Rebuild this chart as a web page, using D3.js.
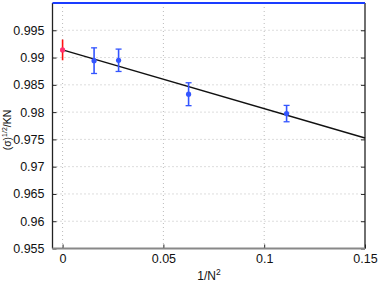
<!DOCTYPE html>
<html>
<head>
<meta charset="utf-8">
<script src="https://cdn.jsdelivr.net/npm/d3@7"></script>
<style>
body { margin: 0; background: #fff; }
text { font-family: "Liberation Sans", Arial, sans-serif; }
</style>
</head>
<body>
<svg id="chart" width="382" height="283"></svg>
<script>
// x = 1/N^2, y = <sigma>^(1/2)/KN
var xVals = [0.015625, 0.027778, 0.0625, 0.111111];
var yVals = [0.98943, 0.98950, 0.98328, 0.97973];
var yErr = [0.00235, 0.00205, 0.00210, 0.00150];
var extrapX = [0];
var extrapY = [0.99140];
var extrapErr = [0.00190];
var fitX = [0, 0.15];
var fitY = [0.99142, 0.97526];
var xTicks = [0, 0.05, 0.1, 0.15];
var yTicks = [0.955, 0.96, 0.965, 0.97, 0.975, 0.98, 0.985, 0.99, 0.995];

var svg = d3.select("#chart");
var pLeft = 52.5, pRight = 365, pTop = 3, pBottom = 248.5;

var x = d3.scaleLinear().domain([-0.005, 0.15]).range([pLeft, pRight]);
var y = d3.scaleLinear().domain([0.955, 1.0]).range([pBottom, pTop]);

// grid
svg.append("g").selectAll("line").data(xTicks.slice(0, 3)).enter().append("line")
    .attr("x1", function(d) { return x(d); }).attr("x2", function(d) { return x(d); })
    .attr("y1", pTop).attr("y2", pBottom)
    .attr("stroke", "#bbb").attr("stroke-width", 1).attr("stroke-dasharray", "1,3");
svg.append("g").selectAll("line").data(yTicks.slice(1)).enter().append("line")
    .attr("x1", pLeft).attr("x2", pRight)
    .attr("y1", function(d) { return y(d); }).attr("y2", function(d) { return y(d); })
    .attr("stroke", "#bbb").attr("stroke-width", 1).attr("stroke-dasharray", "1,3");

// axes
var yAxis = d3.axisLeft(y).tickValues(yTicks).tickSize(-4).tickPadding(8)
    .tickFormat(function(d) { return d3.format("")(+d.toFixed(3)); });
var yRight = d3.axisRight(y).tickValues(yTicks).tickSize(-4).tickFormat("");
var xAxis = d3.axisBottom(x).tickValues(xTicks).tickSize(-4).tickPadding(6)
    .tickFormat(function(d) { return d3.format("")(+d.toFixed(2)); });

var gy = svg.append("g").attr("transform", "translate(" + pLeft + ",0)").call(yAxis);
var gr = svg.append("g").attr("transform", "translate(" + pRight + ",0)").call(yRight);
var gx = svg.append("g").attr("transform", "translate(0," + pBottom + ")").call(xAxis);
[gy, gr, gx].forEach(function(g) {
    g.select(".domain").remove();
    g.selectAll(".tick line").attr("stroke", "#222");
    g.selectAll("text").attr("font-size", 12.5).attr("fill", "#111");
});

// frame
svg.append("line").attr("x1", pLeft).attr("x2", pLeft).attr("y1", pTop).attr("y2", pBottom)
    .attr("stroke", "#222").attr("stroke-width", 1.3);
svg.append("line").attr("x1", pRight).attr("x2", pRight).attr("y1", pTop).attr("y2", pBottom)
    .attr("stroke", "#222").attr("stroke-width", 1.3);
svg.append("line").attr("x1", pLeft).attr("x2", pRight).attr("y1", pBottom).attr("y2", pBottom)
    .attr("stroke", "#888").attr("stroke-width", 2);
svg.append("line").attr("x1", pLeft).attr("x2", pRight).attr("y1", pTop).attr("y2", pTop)
    .attr("stroke", "#1a3cff").attr("stroke-width", 2);

// fit line
var line = d3.line().x(function(d) { return x(d[0]); }).y(function(d) { return y(d[1]); });
svg.append("path").datum(d3.zip(fitX, fitY)).attr("d", line)
    .attr("fill", "none").attr("stroke", "#111").attr("stroke-width", 1.4);

// error bars
function errBars(xs, ys, es, color, cap) {
    var g = svg.append("g");
    var pts = d3.zip(xs, ys, es);
    g.selectAll(".v").data(pts).enter().append("line")
        .attr("x1", function(d) { return x(d[0]); }).attr("x2", function(d) { return x(d[0]); })
        .attr("y1", function(d) { return y(d[1] - d[2]); }).attr("y2", function(d) { return y(d[1] + d[2]); })
        .attr("stroke", color).attr("stroke-width", 1.6);
    if (cap) {
        [-1, 1].forEach(function(s) {
            g.selectAll(".c" + s).data(pts).enter().append("line")
                .attr("x1", function(d) { return x(d[0]) - 3; }).attr("x2", function(d) { return x(d[0]) + 3; })
                .attr("y1", function(d) { return y(d[1] + s * d[2]); }).attr("y2", function(d) { return y(d[1] + s * d[2]); })
                .attr("stroke", color).attr("stroke-width", 1.3);
        });
    }
    g.selectAll("circle").data(pts).enter().append("circle")
        .attr("cx", function(d) { return x(d[0]); }).attr("cy", function(d) { return y(d[1]); })
        .attr("r", 2.6).attr("fill", color);
}
errBars(xVals, yVals, yErr, "#3355ff", true);
errBars(extrapX, extrapY, extrapErr, "#ff1010", false);
svg.selectAll("circle").filter(function(d) { return d[0] === 0; }).attr("fill", "#ff3070");

// labels
svg.append("text").attr("x", 209).attr("y", 280).attr("text-anchor", "middle")
    .attr("font-size", 12).attr("fill", "#111")
    .html('1/N<tspan dy="-5" font-size="8.5">2</tspan>');
svg.append("text").attr("transform", "translate(11,130) rotate(-90)").attr("text-anchor", "middle")
    .attr("font-size", 10.5).attr("fill", "#111")
    .html('(σ)<tspan dy="-4" font-size="7">1/2</tspan><tspan dy="4">/KN</tspan>');
</script>
</body>
</html>
